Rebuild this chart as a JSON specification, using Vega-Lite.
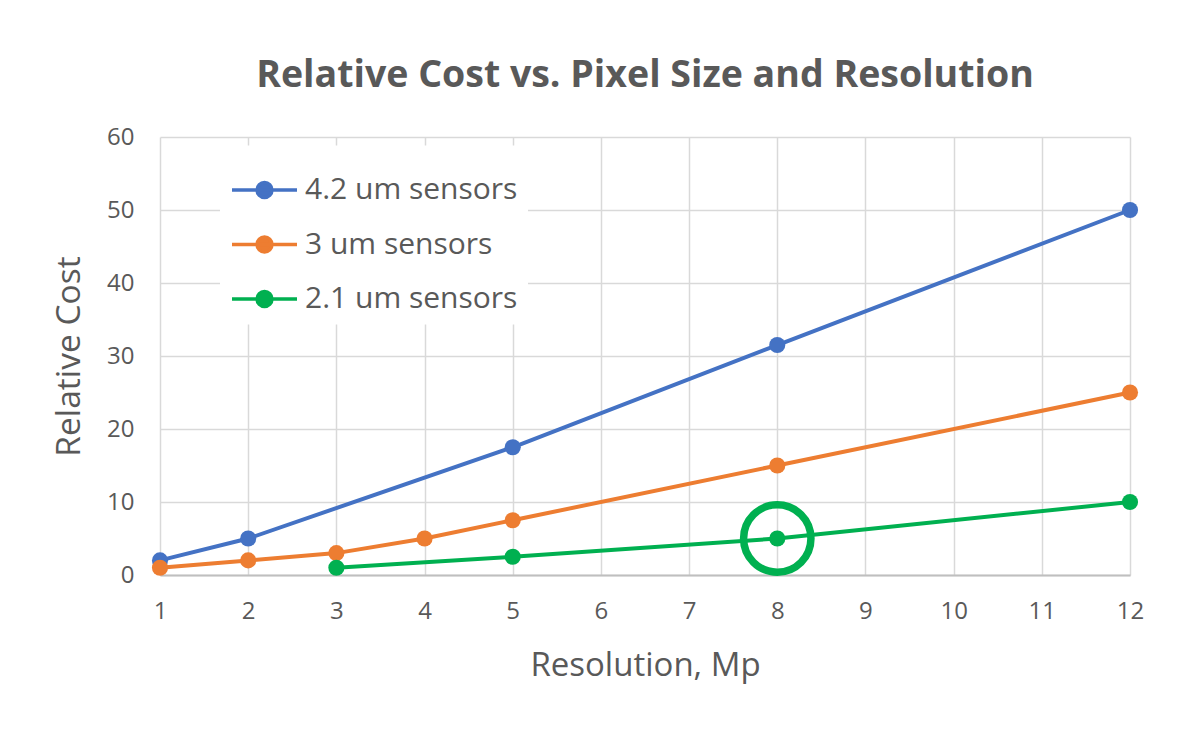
{
  "$schema": "https://vega.github.io/schema/vega-lite/v6.json",
  "width": 970,
  "height": 438,
  "autosize": "none",
  "padding": {"left": 160, "top": 137, "right": 70, "bottom": 162},
  "background": "white",
  "config": {
    "font": "Open Sans",
    "view": {"stroke": null}
  },
  "title": {
    "text": "Relative Cost vs. Pixel Size and Resolution",
    "fontSize": 37.5,
    "fontWeight": "bold",
    "color": "#595959",
    "font": "Open Sans",
    "anchor": "middle",
    "offset": 31
  },
  "datasets": {
    "series": [
      {"series": "4.2 um sensors", "res": 1, "cost": 2},
      {"series": "4.2 um sensors", "res": 2, "cost": 5},
      {"series": "4.2 um sensors", "res": 5, "cost": 17.5},
      {"series": "4.2 um sensors", "res": 8, "cost": 31.5},
      {"series": "4.2 um sensors", "res": 12, "cost": 50},
      {"series": "3 um sensors", "res": 1, "cost": 1},
      {"series": "3 um sensors", "res": 2, "cost": 2},
      {"series": "3 um sensors", "res": 3, "cost": 3},
      {"series": "3 um sensors", "res": 4, "cost": 5},
      {"series": "3 um sensors", "res": 5, "cost": 7.5},
      {"series": "3 um sensors", "res": 8, "cost": 15},
      {"series": "3 um sensors", "res": 12, "cost": 25},
      {"series": "2.1 um sensors", "res": 3, "cost": 1},
      {"series": "2.1 um sensors", "res": 5, "cost": 2.5},
      {"series": "2.1 um sensors", "res": 8, "cost": 5},
      {"series": "2.1 um sensors", "res": 12, "cost": 10}
    ],
    "highlight": [{"res": 8, "cost": 5}]
  },
  "layer": [
    {
      "data": {"name": "series"},
      "mark": {"type": "line", "strokeWidth": 4, "point": {"filled": true, "size": 260, "opacity": 1}},
      "encoding": {
        "x": {
          "field": "res", "type": "quantitative",
          "scale": {"domain": [1, 12], "nice": false, "zero": false},
          "axis": {
            "title": "Resolution, Mp",
            "values": [1,2,3,4,5,6,7,8,9,10,11,12],
            "format": "d",
            "labelFlush": false,
            "ticks": false,
            "labelFontSize": 24,
            "labelColor": "#595959",
            "labelPadding": 24,
            "titleFontSize": 33,
            "titleFontWeight": "normal",
            "titleColor": "#595959",
            "titlePadding": 26,
            "domainColor": "#BFBFBF",
            "domainWidth": 2,
            "gridColor": "#D9D9D9",
            "gridWidth": 1.5
          }
        },
        "y": {
          "field": "cost", "type": "quantitative",
          "scale": {"domain": [0, 60], "nice": false},
          "axis": {
            "title": "Relative Cost",
            "values": [0,10,20,30,40,50,60],
            "ticks": false,
            "domain": false,
            "labelFontSize": 24,
            "labelColor": "#595959",
            "labelPadding": 26,
            "titleFontSize": 33.5,
            "titleFontWeight": "normal",
            "titleColor": "#595959",
            "titlePadding": 20,
            "gridColor": "#D9D9D9",
            "gridWidth": 1.5
          }
        },
        "color": {
          "field": "series", "type": "nominal",
          "scale": {
            "domain": ["4.2 um sensors", "3 um sensors", "2.1 um sensors"],
            "range": ["#4472C4", "#ED7D31", "#00B050"]
          },
          "legend": {
            "title": null,
            "orient": "none",
            "legendX": 60,
            "legendY": 8.5,
            "fillColor": "white",
            "padding": 10,
            "symbolType": "M-1,0H1M-0.23,0a0.23,0.23 0 1,0 0.46,0a0.23,0.23 0 1,0 -0.46,0",
            "symbolSize": 4225,
            "symbolStrokeWidth": 3.5,
            "labelFontSize": 30,
            "labelColor": "#595959",
            "labelOffset": 6,
            "rowPadding": 4.5,
            "labelLimit": 400
          }
        }
      }
    },
    {
      "data": {"name": "highlight"},
      "mark": {"type": "point", "filled": false, "stroke": "#00B050", "strokeWidth": 7.5, "size": 4536, "opacity": 1},
      "encoding": {
        "x": {"field": "res", "type": "quantitative"},
        "y": {"field": "cost", "type": "quantitative"}
      }
    }
  ]
}
